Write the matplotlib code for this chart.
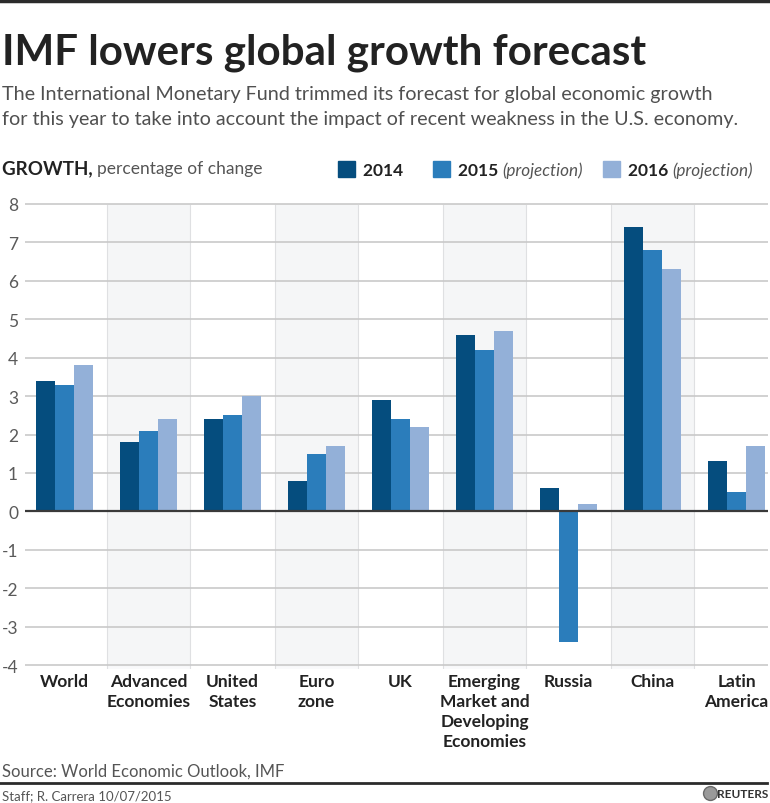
"""
IMF growth forecast chart, Reuters graphic style.
"""

import numpy as np
import matplotlib.pyplot as plt
from matplotlib.patches import Rectangle
from matplotlib.lines import Line2D

categories = [
    "World",
    "Advanced\nEconomies",
    "United\nStates",
    "Euro\nzone",
    "UK",
    "Emerging\nMarket and\nDeveloping\nEconomies",
    "Russia",
    "China",
    "Latin\nAmerica",
]
growth_2014 = [3.4, 1.8, 2.4, 0.8, 2.9, 4.6, 0.6, 7.4, 1.3]
growth_2015 = [3.3, 2.1, 2.5, 1.5, 2.4, 4.2, -3.4, 6.8, 0.5]
growth_2016 = [3.8, 2.4, 3.0, 1.7, 2.2, 4.7, 0.2, 6.3, 1.7]
series_years = ["2014", "2015", "2016"]
series_notes = ["", "(projection)", "(projection)"]
y_ticks = [8, 7, 6, 5, 4, 3, 2, 1, 0, -1, -2, -3, -4]

colors = ["#054d7e", "#2b7dbb", "#93b0d8"]
FONT = "Lato"
W, H = 770, 804

plt.rcParams["font.family"] = [FONT, "DejaVu Sans"]

fig = plt.figure(figsize=(W / 100, H / 100), dpi=100)
renderer = fig.canvas.get_renderer()


def fx(x):
    return x / W


def fy(y):
    return 1 - y / H


def text_run(x, y, pieces):
    """Place text pieces one after the other on a single line (pixel coords)."""
    x = fx(x)
    for s, kw in pieces:
        t = fig.text(x, fy(y), s, va="baseline", ha="left", **kw)
        bb = t.get_window_extent(renderer)
        x += bb.width / W
    return x


# chart area
ax = fig.add_axes([fx(25), 1 - 670 / H, (768 - 25) / W, (670 - 201) / H])
ax.set_xlim(-0.47, 8.375)
ax.set_ylim(-4.1, 8.1)
for s in ax.spines.values():
    s.set_visible(False)

# shaded bands behind every other group (vertical gradient, darkest near zero)
levels = np.interp(np.linspace(8, -4.1, 200), [8, 5, 0, -2, -4.1],
                   [0.985, 0.95, 0.9, 0.925, 0.97])
grad = np.stack([levels - 0.006, levels - 0.003, levels + 0.002], axis=-1)
grad = np.clip(np.repeat(grad[:, None, :], 2, axis=1), 0, 1)
for i in range(1, len(categories), 2):
    ax.imshow(grad, aspect="auto", extent=(i - 0.49, i + 0.49, -4.1, 7.98),
              zorder=0, interpolation="bilinear")
    for edge in (i - 0.49, i + 0.49):
        ax.plot([edge, edge], [-4.1, 7.98], color="#dfe0e2", lw=0.8, zorder=0.5)

# gridlines
for v in y_ticks:
    if v == 0:
        continue
    ax.axhline(v, color="#c9c9c9", lw=1.2, zorder=1)

# bars
x = np.arange(len(categories))
bw = 0.226
for k, vals in enumerate([growth_2014, growth_2015, growth_2016]):
    ax.bar(x + (k - 1) * bw, vals, width=bw, color=colors[k], zorder=2, linewidth=0)

ax.axhline(0, color="#3a3a3a", lw=1.6, zorder=3)

ax.set_yticks(y_ticks)
ax.set_yticklabels([str(v) for v in y_ticks], fontsize=12.5, color="#5a5a5a")
ax.tick_params(axis="y", length=0, pad=5)
ax.set_xticks(x)
ax.set_xticklabels(categories, fontsize=12.5, color="#222222", fontweight="bold",
                   linespacing=1.3, va="top")
ax.tick_params(axis="x", length=0, pad=3)

# top rule
fig.add_artist(Line2D([0, 1], [fy(1.5), fy(1.5)], color="#2b2b2b", lw=2.5))

# title and subtitle
fig.text(fx(2), fy(65), "IMF lowers global growth forecast", fontsize=30.3,
         fontweight="bold", color="#222222", va="baseline")
fig.text(fx(2), fy(100),
         "The International Monetary Fund trimmed its forecast for global economic growth",
         fontsize=14.2, color="#505050", va="baseline")
fig.text(fx(2), fy(125),
         "for this year to take into account the impact of recent weakness in the U.S. economy.",
         fontsize=14.2, color="#505050", va="baseline")

# axis heading
text_run(2, 174, [("GROWTH, ", dict(fontsize=13.5, fontweight="bold", color="#222222")),
                  ("percentage of change", dict(fontsize=12.5, color="#555555"))])

# legend
legend_x = [338, 433, 603]
for k in range(3):
    fig.add_artist(Rectangle((fx(legend_x[k]), fy(178)), 17 / W, 16 / H,
                             color=colors[k], transform=fig.transFigure))
    pieces = [(series_years[k] + " ", dict(fontsize=12.5, fontweight="bold", color="#222222"))]
    if series_notes[k]:
        pieces.append((series_notes[k], dict(fontsize=12.3, style="italic", color="#555555")))
    text_run(legend_x[k] + 25, 176, pieces)

# footer
fig.text(fx(2), fy(777), "Source: World Economic Outlook, IMF", fontsize=12,
         color="#555555", va="baseline")
fig.add_artist(Line2D([0, fx(767)], [fy(784), fy(784)], color="#2b2b2b", lw=2))
fig.text(fx(2), fy(800), "Staff; R. Carrera 10/07/2015", fontsize=9.5,
         color="#555555", va="baseline")
fig.add_artist(Line2D([fx(710)], [fy(794)], marker="o", markersize=10,
                      markerfacecolor="#9a9a9a", markeredgecolor="#6a6a6a"))
fig.text(fx(768), fy(798), "REUTERS", fontsize=8.5, fontweight="bold",
         color="#333333", va="baseline", ha="right")

fig.savefig("out.png", dpi=100)
